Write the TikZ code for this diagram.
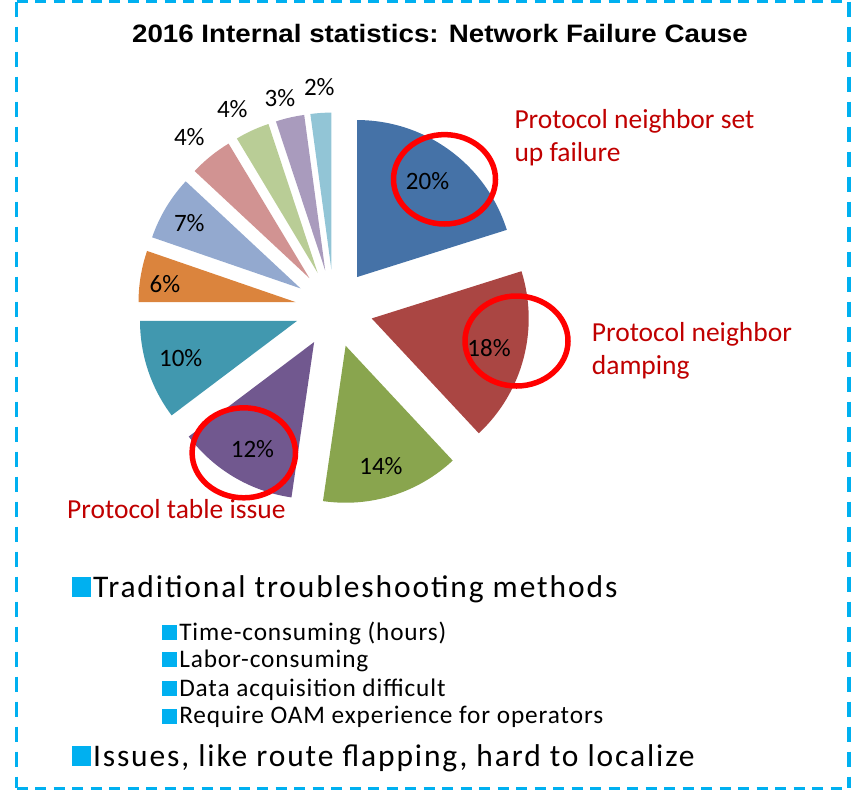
\documentclass[tikz,border=0pt]{standalone}
\usepackage{graphicx}
\usepackage{fontspec}
\setmainfont{Carlito}
\newfontfamily\titlefont{Liberation Sans}
\newfontfamily\listfont{Carlito}[LetterSpace=6]
\newfontfamily\sublistfont{Carlito}[LetterSpace=3.5]
\usetikzlibrary{calc}

\definecolor{sliceA}{HTML}{4572A7}
\definecolor{sliceB}{HTML}{AA4643}
\definecolor{sliceC}{HTML}{89A54E}
\definecolor{sliceD}{HTML}{71588F}
\definecolor{sliceE}{HTML}{4198AF}
\definecolor{sliceF}{HTML}{DB843D}
\definecolor{sliceG}{HTML}{93A9CF}
\definecolor{sliceH}{HTML}{D19392}
\definecolor{sliceI}{HTML}{B9CD96}
\definecolor{sliceJ}{HTML}{A99BBD}
\definecolor{sliceK}{HTML}{92C5D6}
\definecolor{notered}{HTML}{C00000}
\definecolor{ringred}{HTML}{FF0000}
\definecolor{accent}{HTML}{00B0F0}

\tikzset{
  pct/.style={anchor=base, inner sep=0pt, font=\fontsize{25}{30}\selectfont},
  note/.style={anchor=base west, inner sep=0pt, text=notered, font=\fontsize{27.5}{33}\selectfont},
  ring/.style={draw=ringred, line width=5.5pt},
  mainitem/.style={anchor=base west, inner sep=0pt, font=\listfont\fontsize{31.5}{37}\selectfont},
  subitem/.style={anchor=base west, inner sep=0pt, font=\sublistfont\fontsize{25.3}{30}\selectfont},
  hframe/.style={draw=accent, line width=3.5pt, dash pattern=on 11pt off 7.5pt},
  vframe/.style={draw=accent, line width=3.5pt, dash pattern=on 15.5pt off 9.5pt},
}

% exploded pie slice: colour, start angle, end angle (clockwise)
\newcommand\pieslice[3]{%
  \pgfmathsetmacro\midang{(#2+#3)/2}%
  \fill[#1] ($(C)+(\midang:39pt)$) -- +(#2:157pt)
    arc[start angle=#2, end angle=#3, radius=157pt] -- cycle;}

\newcommand\mainbullet{\textcolor{accent}{\rule{19pt}{20pt}}\hspace{1.6pt}}
\newcommand\subbullet{\textcolor{accent}{\rule{15pt}{15pt}}\hspace{2.4pt}}

\begin{document}
\begin{tikzpicture}[x=1pt, y=-1pt]
  \useasboundingbox (0,0) rectangle (858,793);

  % dashed frame
  \coordinate (f1) at (16.7,1.5);
  \coordinate (f2) at (849,1.5);
  \coordinate (f3) at (849,788.3);
  \coordinate (f4) at (16.7,788.3);
  \draw[hframe] (f1) -- (f2);
  \draw[hframe] (f4) -- (f3);
  \draw[vframe] (f1) -- (f4);
  \draw[vframe] (f2) -- (f3);

  % title
  \node[anchor=base, inner sep=0pt] (title) at (440,42.7)
    {\scalebox{1.1}[1]{\titlefont\bfseries\fontsize{25.2}{30}\selectfont 2016 Internal statistics: Network Failure Cause}};

  % pie
  \coordinate (C) at (334,308.5);
  \pieslice{sliceA}{90}{17.5}
  \pieslice{sliceB}{17.5}{-47}
  \pieslice{sliceC}{-47}{-98.3}
  \pieslice{sliceD}{-98.3}{-143}
  \pieslice{sliceE}{-143}{-180}
  \pieslice{sliceF}{-180}{-199}
  \pieslice{sliceG}{-199}{-223}
  \pieslice{sliceH}{-223}{-239}
  \pieslice{sliceI}{-239}{-251.7}
  \pieslice{sliceJ}{-251.7}{-262.3}
  \pieslice{sliceK}{-262.3}{-270}

  % percentages
  \node[pct] (p20) at (427.5,189.3) {20\%};
  \node[pct] (p18) at (489,356) {18\%};
  \node[pct] (p14) at (381,474) {14\%};
  \node[pct] (p12) at (252.5,457.3) {12\%};
  \node[pct] (p10) at (180.7,366.7) {10\%};
  \node[pct] (p6)  at (165,292.3) {6\%};
  \node[pct] (p7)  at (189.3,231.7) {7\%};
  \node[pct] (p4a) at (189.3,145) {4\%};
  \node[pct] (p4b) at (232.3,117.3) {4\%};
  \node[pct] (p3)  at (280,106.7) {3\%};
  \node[pct] (p2)  at (319.3,95) {2\%};

  % highlight rings
  \draw[ring] (444.5,179.3) ellipse [x radius=51pt, y radius=44.7pt];
  \draw[ring] (516.5,341) ellipse [x radius=51.5pt, y radius=45pt];
  \draw[ring] (243.8,452.8) ellipse [x radius=51.7pt, y radius=45pt];

  % annotations
  \node[note] (n1a) at (514.3,128) {Protocol neighbor set};
  \node[note] (n1b) at (514.3,161) {up failure};
  \node[note] (n2a) at (591.7,341.7) {Protocol neighbor};
  \node[note] (n2b) at (591.7,374.5) {damping};
  \node[note] (n3)  at (67,518.3) {Protocol table issue};

  % bullet list
  \node[mainitem] (b1) at (72.2,597) {\mainbullet Traditional troubleshooting methods};
  \node[subitem] (s1) at (161.7,640) {\subbullet Time-consuming (hours)};
  \node[subitem] (s2) at (161.7,667) {\subbullet Labor-consuming};
  \node[subitem] (s3) at (161.7,696) {\subbullet Data acquisition difficult};
  \node[subitem] (s4) at (161.7,723.5) {\subbullet Require OAM experience for operators};
  \node[mainitem] (b2) at (72.2,766) {\mainbullet Issues, like route flapping, hard to localize};
\end{tikzpicture}
\end{document}
